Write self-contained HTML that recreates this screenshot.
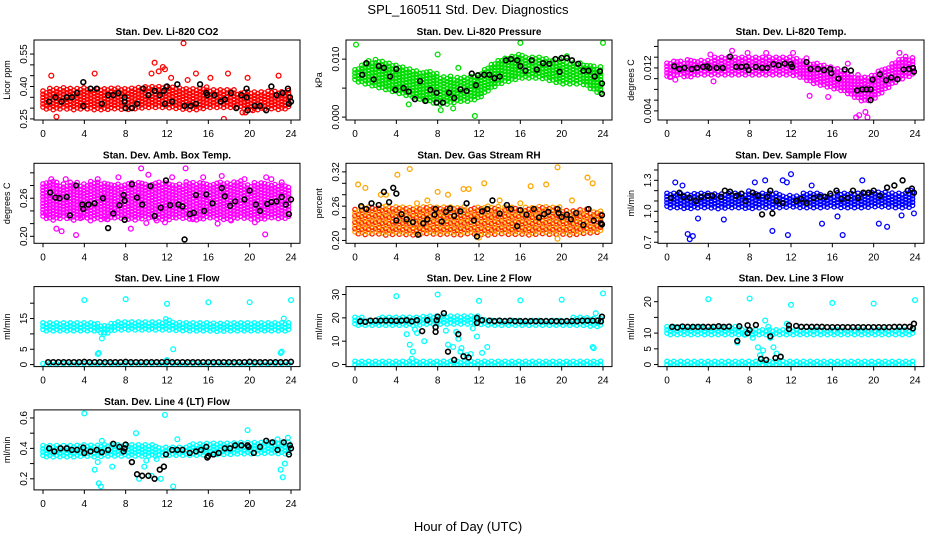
<!DOCTYPE html>
<html><head><meta charset="utf-8"><style>
html,body{margin:0;padding:0;background:#fff;}
svg{display:block;font-family:"Liberation Sans",sans-serif;}
</style></head><body>
<svg id="chart" width="936" height="540" viewBox="0 0 936 540">
<text x="468" y="14" text-anchor="middle" font-size="13">SPL_160511  Std. Dev. Diagnostics</text>
<text x="468" y="531" text-anchor="middle" font-size="13">Hour of Day (UTC)</text>
</svg>
<script>
// ---- data arrays ----
const xTicks = [0,4,8,12,16,20,24];
const hours = [0,1,2,3,4,5,6,7,8,9,10,11,12,13,14,15,16,17,18,19,20,21,22,23,24];

const co2Lo = [0.305,0.30,0.305,0.30,0.305,0.30,0.30,0.305,0.30,0.305,0.31,0.31,0.31,0.305,0.30,0.30,0.31,0.31,0.31,0.31,0.30,0.30,0.305,0.30,0.31];
const co2Hi = [0.385,0.39,0.395,0.40,0.395,0.40,0.40,0.395,0.40,0.40,0.40,0.405,0.40,0.40,0.40,0.40,0.395,0.39,0.385,0.38,0.375,0.38,0.385,0.385,0.38];
const co2Out = [[1.3,0.26],[0.8,0.45],[5,0.46],[10.8,0.51],[11.2,0.47],[11.6,0.49],[11.8,0.48],[10.5,0.46],[13.6,0.60],[14.8,0.46],[16.2,0.44],[17.5,0.25],[17.9,0.46],[19.3,0.28],[19.8,0.44],[22.8,0.45],[12.4,0.44],[14,0.43],[19.6,0.28],[20.3,0.29]];
const co2Blk = [[0.6,0.33],[1.2,0.35],[1.8,0.33],[2.3,0.35],[2.8,0.35],[3.3,0.37],[3.9,0.42],[3.9,0.31],[4.6,0.39],[5.2,0.39],[5.7,0.32],[6.3,0.36],[6.8,0.36],[7.3,0.37],[7.9,0.35],[7.9,0.33],[8,0.3],[8.6,0.3],[9.1,0.32],[9.7,0.39],[10.2,0.36],[10.8,0.38],[11.3,0.36],[11.7,0.38],[11.8,0.32],[12,0.4],[12.5,0.33],[13,0.41],[13.7,0.31],[14.3,0.31],[14.8,0.32],[15.2,0.41],[15.8,0.37],[15.9,0.36],[16.6,0.36],[17.2,0.33],[17.6,0.34],[18.2,0.37],[18.7,0.3],[19.2,0.36],[19.7,0.35],[19.7,0.39],[19.8,0.29],[20.5,0.31],[21,0.31],[21.6,0.29],[22.1,0.4],[22.6,0.36],[23.2,0.37],[23.7,0.39],[23.8,0.32],[23.9,0.35],[24,0.33]];

const presLo = [0.0065,0.006,0.0055,0.005,0.0045,0.004,0.0035,0.003,0.0025,0.0025,0.003,0.003,0.0035,0.005,0.006,0.0065,0.007,0.007,0.007,0.0065,0.006,0.006,0.006,0.005,0.004];
const presHi = [0.0085,0.0095,0.010,0.0095,0.009,0.0085,0.008,0.008,0.0075,0.007,0.007,0.007,0.0075,0.009,0.010,0.0105,0.011,0.0105,0.0105,0.010,0.010,0.0095,0.0095,0.009,0.0085];
const presOut = [[0.1,0.0125],[4.1,0.0165],[8,0.0108],[11.9,0.016],[16,0.0145],[16,0.0128],[19.9,0.016],[24,0.0128],[11.6,0.0002],[8.3,0.0012],[10,0.0085],[20.5,0.0105],[5.2,0.0022],[9.5,0.0015]];
const presBlk = [[0.7,0.0073],[1.1,0.0093],[1.8,0.0065],[2.3,0.0088],[2.8,0.0085],[3.4,0.007],[3.9,0.0047],[4,0.0083],[4.7,0.005],[5.2,0.0044],[5.8,0.0031],[6.3,0.0062],[6.8,0.0028],[7.3,0.0047],[7.9,0.0025],[7.9,0.0042],[8.5,0.0025],[9.1,0.0042],[9.6,0.0033],[10.2,0.0048],[10.8,0.0045],[11.3,0.0075],[11.7,0.0055],[11.9,0.0072],[12.5,0.0073],[13,0.0073],[13.5,0.0067],[14,0.007],[14.6,0.0098],[15.1,0.01],[15.7,0.0098],[16,0.0088],[16.5,0.008],[17.1,0.0098],[17.6,0.0082],[18.2,0.0093],[18.8,0.0092],[19.4,0.01],[19.8,0.0078],[20,0.0102],[20.5,0.0102],[21,0.0098],[21.6,0.0092],[22.1,0.008],[22.6,0.008],[23.2,0.007],[23.7,0.0079],[23.9,0.0058],[23.9,0.004]];

const tempLo = [0.0105,0.011,0.0105,0.011,0.011,0.011,0.011,0.011,0.011,0.011,0.011,0.011,0.011,0.0105,0.0095,0.009,0.0085,0.008,0.007,0.006,0.0065,0.008,0.0095,0.0105,0.011];
const tempHi = [0.0133,0.0133,0.0135,0.0137,0.0138,0.014,0.0143,0.0142,0.014,0.0142,0.0143,0.0142,0.014,0.0135,0.013,0.0125,0.012,0.0115,0.011,0.0105,0.011,0.012,0.0135,0.0142,0.014];
const tempOut = [[0.3,0.0103],[0.8,0.0098],[4.2,0.0145],[4.5,0.0095],[6.3,0.0152],[7.8,0.0148],[9.6,0.0148],[12.2,0.0148],[13.5,0.0138],[13.8,0.0068],[15.6,0.0066],[17.5,0.0128],[18.3,0.0028],[18.6,0.0032],[19.2,0.0038],[19.4,0.0028],[22.5,0.0148]];
const tempBlk = [[0.7,0.0123],[1.2,0.0118],[1.7,0.012],[2.4,0.0118],[2.9,0.012],[3.5,0.0122],[3.9,0.0123],[4.1,0.012],[4.8,0.012],[5.4,0.012],[6.1,0.0141],[6.7,0.0122],[7.2,0.0122],[7.7,0.0123],[7.9,0.0116],[8.6,0.0122],[9.2,0.012],[9.7,0.012],[10.3,0.0127],[10.8,0.0125],[11.4,0.0128],[12,0.0127],[12.1,0.0122],[13.5,0.0131],[13.9,0.0118],[14.6,0.0118],[15.2,0.0116],[15.8,0.0118],[15.9,0.011],[16.6,0.01],[17.2,0.0117],[17.8,0.0115],[18.4,0.0078],[18.9,0.008],[19.3,0.008],[19.7,0.008],[19.7,0.006],[19.9,0.0098],[20.6,0.0108],[21.2,0.0097],[21.7,0.0102],[22.3,0.0099],[22.9,0.0117],[23.4,0.0118],[23.8,0.012],[23.9,0.0113]];

const ambLo = [0.232,0.228,0.232,0.228,0.232,0.23,0.228,0.232,0.23,0.228,0.232,0.23,0.228,0.232,0.23,0.228,0.232,0.23,0.228,0.232,0.23,0.228,0.232,0.23,0.232];
const ambHi = [0.285,0.288,0.283,0.287,0.284,0.288,0.283,0.286,0.284,0.288,0.283,0.287,0.285,0.283,0.286,0.288,0.283,0.287,0.284,0.288,0.283,0.286,0.284,0.282,0.28];
const ambOut = [[0.3,0.237],[0.8,0.29],[1.3,0.212],[1.8,0.208],[2.2,0.29],[3.2,0.202],[3.8,0.23],[4.6,0.225],[5.3,0.29],[6.2,0.227],[7.3,0.293],[8.5,0.212],[9.5,0.307],[10.2,0.297],[11,0.225],[11.8,0.222],[12.5,0.293],[13.8,0.307],[14.5,0.227],[15.5,0.293],[17.3,0.295],[18.2,0.225],[19.5,0.29],[20.5,0.222],[21.5,0.203],[21.6,0.293],[22.1,0.29],[23.1,0.285],[4.1,0.245],[10,0.221],[16.9,0.22]];
const ambBlk = [[0.7,0.269],[1.2,0.261],[1.6,0.26],[2.3,0.262],[2.6,0.233],[3.2,0.28],[3.8,0.25],[3.9,0.243],[4.4,0.25],[5,0.252],[5.8,0.26],[6.3,0.213],[6.8,0.236],[7.4,0.249],[7.8,0.265],[7.9,0.256],[7.9,0.226],[8.6,0.282],[9.1,0.261],[9.6,0.25],[10.4,0.279],[10.8,0.232],[11.4,0.245],[11.9,0.288],[12.3,0.249],[13.1,0.25],[13.5,0.247],[13.7,0.195],[14.2,0.235],[14.6,0.237],[14.8,0.265],[15.6,0.24],[15.8,0.266],[16.4,0.252],[17.3,0.276],[17.6,0.263],[18.1,0.248],[18.6,0.255],[19.5,0.258],[20,0.272],[20.6,0.25],[21,0.24],[21.7,0.251],[22.1,0.254],[22.6,0.255],[23.1,0.262],[23.5,0.25],[23.8,0.235],[24,0.258]];

const rhLo = [0.215,0.213,0.215,0.212,0.214,0.213,0.212,0.215,0.213,0.214,0.212,0.215,0.213,0.212,0.215,0.213,0.214,0.212,0.215,0.213,0.214,0.212,0.215,0.216,0.218];
const rhHi = [0.255,0.26,0.258,0.262,0.26,0.262,0.258,0.26,0.262,0.258,0.26,0.257,0.26,0.262,0.258,0.26,0.257,0.258,0.26,0.257,0.258,0.255,0.256,0.252,0.25];
const rhOut = [[0.3,0.298],[1,0.292],[2.5,0.28],[3,0.28],[4.1,0.315],[5.3,0.325],[6,0.265],[7,0.27],[8,0.285],[9,0.28],[10.5,0.29],[11,0.29],[12,0.205],[12.5,0.30],[14,0.27],[16,0.265],[17,0.295],[18.5,0.298],[19.6,0.328],[19.6,0.203],[21,0.27],[22.5,0.31],[23,0.3]];
const rhBlk = [[0.6,0.26],[1.1,0.255],[1.6,0.265],[2.3,0.262],[2.8,0.285],[3.3,0.267],[3.7,0.292],[4,0.282],[4,0.235],[4.5,0.246],[5,0.237],[5.6,0.232],[6.1,0.21],[6.6,0.23],[7,0.237],[7.7,0.245],[7.8,0.255],[8.4,0.233],[8.8,0.25],[9.2,0.256],[9.6,0.243],[10.2,0.251],[10.8,0.265],[11.5,0.235],[11.8,0.207],[12.3,0.251],[12.8,0.255],[13.3,0.27],[14,0.247],[14.7,0.262],[15.1,0.255],[15.7,0.225],[16,0.253],[16.6,0.245],[17.3,0.255],[17.8,0.24],[18.3,0.246],[18.7,0.25],[19.6,0.255],[19.7,0.248],[20,0.241],[20.5,0.245],[20.9,0.237],[21.4,0.248],[22.1,0.227],[22.6,0.255],[23.1,0.235],[23.8,0.23],[23.9,0.244],[23.9,0.228]];

const flowLo = [1.05,1.05,1.04,1.05,1.05,1.04,1.05,1.05,1.04,1.05,1.05,1.05,1.06,1.05,1.05,1.05,1.06,1.05,1.05,1.05,1.06,1.06,1.05,1.05,1.06];
const flowHi = [1.18,1.2,1.18,1.17,1.18,1.19,1.18,1.18,1.2,1.19,1.18,1.17,1.17,1.17,1.18,1.17,1.17,1.18,1.18,1.2,1.2,1.2,1.2,1.19,1.2];
const flowOut = [[0.8,1.28],[1.5,1.25],[2,0.78],[2.2,0.73],[2.5,0.76],[5.5,0.92],[8.5,1.28],[9.5,1.3],[10.2,0.81],[11.2,1.3],[11.6,1.28],[12,1.36],[11.7,0.77],[14,1.25],[15,0.88],[17,0.77],[18.9,1.3],[20.5,0.88],[21.3,0.85],[22.7,0.96],[23.6,1.2],[23.9,0.98],[16.5,0.95],[3,0.93]];
const flowBlk = [[0.4,1.13],[1.2,1.18],[1.6,1.14],[2.2,1.13],[2.8,1.1],[3.3,1.14],[3.9,1.15],[4.4,1.15],[5.2,1.14],[5.6,1.2],[6.1,1.19],[6.7,1.15],[7.2,1.17],[7.6,1.1],[8.3,1.18],[8.8,1.15],[9.2,0.97],[9.7,1.14],[10,1.2],[10.2,0.98],[10.6,1.1],[11.2,1.08],[12.5,1.1],[13,1.12],[13.5,1.08],[14.2,1.13],[14.8,1.14],[15.3,1.14],[15.8,1.17],[16.4,1.2],[16.9,1.12],[17.5,1.13],[18,1.2],[18.5,1.13],[19,1.18],[19.5,1.18],[20,1.2],[20.6,1.15],[21.3,1.23],[22,1.25],[22.8,1.3],[23.3,1.2],[23.7,1.22],[23.9,1.18]];

const l1Lo = [11.5,11.5,11.5,11.5,11.5,11.5,10.5,11.8,11.8,11.8,11.8,11.8,11.8,11.6,11.5,11.5,11.5,11.3,11.5,11.5,11.5,11.5,11.5,11.5,11.5];
const l1Hi = [14,14,14,14,14.2,14.2,13,14.5,14.5,14.5,14.5,14.5,14.8,14.5,14,14,14,13.8,14,14,14,14,14,14,14];
const l1BLo = [0.3,0.3,0.3,0.3,0.3,0.3,0.3,0.3,0.3,0.3,0.3,0.3,0.3,0.3,0.3,0.3,0.3,0.3,0.3,0.3,0.3,0.3,0.3,0.3,0.3];
const l1BHi = [1.0,1.0,1.0,1.0,1.0,1.0,1.0,1.0,1.0,1.0,1.0,1.0,1.0,1.0,1.0,1.0,1.0,1.0,1.0,1.0,1.0,1.0,1.0,1.0,1.0];
const l1Out = [[4,21],[8,21.3],[12,19.8],[16,20.3],[20,20.3],[24,21],[5.3,3.5],[5.4,3.8],[5.7,8.5],[5.9,10],[12.6,5],[23,3.8],[23.1,4.2],[23.3,15],[12,1.5]];
const l1Blk = [[0.5,0.8],[1,0.8],[1.5,0.8],[2,0.8],[2.5,0.8],[3,0.8],[3.5,0.8],[4,0.9],[4.5,0.8],[5,0.8],[5.5,0.8],[6,0.8],[6.5,0.8],[7,0.8],[7.5,0.8],[8,0.9],[8.5,0.8],[9,0.8],[9.5,0.8],[10,0.8],[10.5,0.8],[11,0.8],[11.5,0.8],[12,0.9],[12.5,0.8],[13,0.8],[13.5,0.8],[14,0.8],[14.5,0.8],[15,0.8],[15.5,0.8],[16,0.8],[16.5,0.8],[17,0.8],[17.5,0.8],[18,0.8],[18.5,0.8],[19,0.8],[19.5,0.8],[20,0.9],[20.5,0.8],[21,0.8],[21.5,0.8],[22,0.8],[22.5,0.8],[23,0.8],[23.5,0.8],[24,0.9]];

const l2Lo = [17.5,17.5,17.5,17.5,17.5,17.5,17.5,18,18,18,18,18,18,17.5,17.5,17.5,17.5,17.5,17.5,17.5,17.5,17.5,17.5,17,17];
const l2Hi = [20.5,20,20,20.5,20.5,20.5,20.5,21,21,21,21,21,20.5,20,20,20,20,20,20,20,20,20,20.5,20.5,20];
const l2BLo = [0,0,0,0,0,0,0,0,0,0,0,0,0,0,0,0,0,0,0,0,0,0,0,0,0];
const l2BHi = [1.5,1.5,1.5,1.5,1.5,1.5,1.5,1.5,1.5,1.5,1.5,1.5,1.5,1.5,1.5,1.5,1.5,1.5,1.5,1.5,1.5,1.5,1.5,1.5,1.5];
const l2Out = [[4,29.3],[8,30],[12,27.3],[16,27.5],[20,27.8],[24,30.5],[5,13],[5.3,8.5],[5.5,2.5],[5.6,5.5],[5.8,15],[6,13.5],[6.7,10],[8.8,14.5],[9,8.5],[9.5,7.5],[9.8,14],[10,11],[10.2,5.5],[10.3,7],[10.8,4],[11.2,4.5],[11.4,15.5],[11.8,12],[12.3,5],[12.8,7.5],[23,7.5],[23.1,7],[23.3,22]];
const l2Blk = [[0.5,18.5],[1,18.3],[1.5,18.8],[2,18.8],[2.5,18.8],[3,18.8],[3.5,18.8],[4,18.7],[4.5,18.8],[5,19],[5.5,18.5],[6,19],[6.5,14.3],[7,19],[7.8,14],[7.8,16],[7.9,19],[8,20.5],[8.6,22],[9,5.5],[9.6,2],[10,13],[10.5,3.5],[11,3],[11.8,20],[11.8,17.8],[12.3,19],[13,18.8],[13.5,18.6],[14,18.8],[14.5,18.6],[15,18.8],[15.5,18.6],[16,18.6],[16.5,18.6],[17,18.6],[17.5,18.6],[18,18.6],[18.5,18.6],[19,18.6],[19.5,18.6],[20,18.5],[20.5,18.6],[21,18.6],[21.5,18.6],[22,18.8],[22.5,18.8],[23,18.8],[23.5,18.8],[23.8,18.5],[23.9,20.5]];

const l3Lo = [10,10,10,10,10,10,10,10,10,10,10,10,10,10,10,10,10,10,10,10,10,10,10,10,10];
const l3Hi = [12.8,12.8,12.8,12.8,12.8,12.8,12.8,12,11.2,11.2,11.2,11.2,11.5,11.5,11.5,11.5,11.5,11.5,11.5,11.5,11.5,11.5,11.5,11.5,11.5];
const l3BLo = [0,0,0,0,0,0,0,0,0,0,0,0,0,0,0,0,0,0,0,0,0,0,0,0,0];
const l3BHi = [1,1,1,1,1,1,1,1,1,1,1,1,1,1,1,1,1,1,1,1,1,1,1,1,1];
const l3Out = [[4,20.8],[8,21],[12,19],[16,19.6],[20,19.4],[24,20.5],[6.8,7],[7.5,9.5],[8.3,8.5],[8.8,5.5],[9,3],[9.3,4.5],[9.5,14],[9.8,12],[10,8.5],[10.3,5.5],[10.6,3.5],[11,2.5],[11.6,13]];
const l3Blk = [[0.5,12],[1,11.8],[1.5,12.1],[2,12],[2.5,12],[3,12],[3.5,12],[4,12],[4.5,12],[5,12.2],[5.5,12],[6,12.1],[6.8,7.5],[7,12.2],[7.8,12.5],[7.8,10],[8,11],[8.6,12.6],[9.1,1.8],[9.6,1.5],[10,9],[10.5,2.1],[11,2.5],[11.8,12.5],[11.8,11.3],[12.5,12.3],[13,12],[13.5,12],[14,12],[14.5,12],[15,12],[15.5,11.9],[16,11.9],[16.5,11.9],[17,11.9],[17.5,11.9],[18,11.9],[18.5,11.9],[19,11.9],[19.5,11.9],[20,11.9],[20.5,11.9],[21,11.9],[21.5,11.9],[22,12],[22.5,12],[23,12],[23.5,12],[23.8,11.5],[23.9,13]];

const l4Lo = [0.355,0.355,0.355,0.355,0.36,0.355,0.36,0.36,0.36,0.36,0.36,0.36,0.365,0.365,0.365,0.365,0.37,0.37,0.37,0.375,0.375,0.375,0.38,0.375,0.375];
const l4Hi = [0.42,0.42,0.42,0.42,0.42,0.42,0.425,0.425,0.42,0.42,0.42,0.42,0.42,0.42,0.425,0.425,0.43,0.435,0.44,0.445,0.445,0.445,0.445,0.44,0.44];
const l4Out = [[4,0.63],[5,0.26],[5.3,0.31],[5.4,0.17],[5.6,0.15],[5.7,0.45],[6.7,0.28],[9,0.5],[9.3,0.2],[9.8,0.28],[10,0.32],[10.5,0.22],[11,0.33],[11.4,0.2],[11.8,0.62],[12.6,0.15],[13,0.46],[19.8,0.52],[22.7,0.46],[23,0.26],[23.2,0.21],[23.4,0.3],[23.7,0.47]];
const l4Blk = [[0.6,0.40],[1.1,0.38],[1.7,0.40],[2.3,0.40],[2.8,0.39],[3.3,0.39],[3.9,0.405],[4,0.37],[4.6,0.38],[5.2,0.39],[5.7,0.375],[6.3,0.39],[6.8,0.43],[7.4,0.41],[7.8,0.38],[7.9,0.40],[8,0.425],[8.6,0.31],[9.1,0.23],[9.6,0.22],[10.2,0.22],[10.8,0.20],[11.3,0.26],[11.7,0.28],[11.9,0.36],[12.5,0.39],[13,0.39],[13.5,0.39],[14.2,0.37],[14.8,0.38],[15.3,0.39],[15.8,0.41],[15.9,0.34],[16,0.35],[16.5,0.36],[17,0.37],[17.6,0.40],[18.1,0.40],[18.6,0.42],[19.2,0.42],[19.8,0.42],[19.9,0.41],[20.4,0.37],[21,0.41],[21.6,0.45],[22.2,0.44],[22.7,0.39],[23.3,0.44],[23.8,0.36],[23.9,0.42],[24,0.40]];

const co2Ticks=[0.25,0.30,0.35,0.40,0.45,0.50,0.55], co2Labels=["0.25","","","0.40","","","0.55"];
const presTicks=[0,0.005,0.010], presLabels=["0.000","","0.010"];
const tempTicks=[0.004,0.006,0.008,0.010,0.012,0.014,0.016], tempLabels=["0.004","","","","0.012","",""];
const ambTicks=[0.20,0.22,0.24,0.26,0.28,0.30], ambLabels=["0.20","","","0.26","",""];
const rhTicks=[0.20,0.22,0.24,0.26,0.28,0.30,0.32], rhLabels=["0.20","","","0.26","","","0.32"];
const flowTicks=[0.7,0.8,0.9,1.0,1.1,1.2,1.3,1.4], flowLabels=["0.7","","","1.0","","","1.3",""];
const l1Ticks=[0,5,10,15,20], l1Labels=["0","5","","15",""];
const l2Ticks=[0,10,20,30], l2Labels=["0","10","20","30"];
const l3Ticks=[0,5,10,15,20], l3Labels=["0","5","10","","20"];
const l4Ticks=[0.2,0.3,0.4,0.5,0.6], l4Labels=["0.2","","0.4","","0.6"];

// ---- rendering ----
const NS="http://www.w3.org/2000/svg";
const svg=document.getElementById('chart');
function mk(tag,attrs,parent){const e=document.createElementNS(NS,tag);for(const k in attrs)e.setAttribute(k,attrs[k]);(parent||svg).appendChild(e);return e;}

const panels=[
 {name:'co2',title:'Stan. Dev. Li-820 CO2',ylab:'Licor ppm',col:0,row:0,y0:0.245,y1:0.615,ticks:co2Ticks,labels:co2Labels,color:'#ff0000',bands:[[co2Lo,co2Hi]],out:co2Out,blk:co2Blk},
 {name:'pressure',title:'Stan. Dev. Li-820 Pressure',ylab:'kPa',col:1,row:0,y0:-0.0005,y1:0.0133,ticks:presTicks,labels:presLabels,color:'#00dd00',bands:[[presLo,presHi]],out:presOut,blk:presBlk},
 {name:'li820-temp',title:'Stan. Dev. Li-820 Temp.',ylab:'degrees C',col:2,row:0,y0:0.0023,y1:0.0172,ticks:tempTicks,labels:tempLabels,color:'#ff00ff',bands:[[tempLo,tempHi]],out:tempOut,blk:tempBlk},
 {name:'amb-box-temp',title:'Stan. Dev. Amb. Box Temp.',ylab:'degrees C',col:0,row:1,y0:0.189,y1:0.315,ticks:ambTicks,labels:ambLabels,color:'#ff00ff',bands:[[ambLo,ambHi]],out:ambOut,blk:ambBlk},
 {name:'gas-stream-rh',title:'Stan. Dev. Gas Stream RH',ylab:'percent',col:1,row:1,y0:0.195,y1:0.335,ticks:rhTicks,labels:rhLabels,color:'#ffa500',alt:'#ff2000',bands:[[rhLo,rhHi]],out:rhOut,blk:rhBlk},
 {name:'sample-flow',title:'Stan. Dev. Sample Flow',ylab:'ml/min',col:2,row:1,y0:0.69,y1:1.465,ticks:flowTicks,labels:flowLabels,color:'#0000ff',bands:[[flowLo,flowHi]],out:flowOut,blk:flowBlk},
 {name:'line1-flow',title:'Stan. Dev. Line 1 Flow',ylab:'ml/min',col:0,row:2,y0:-0.65,y1:25.4,ticks:l1Ticks,labels:l1Labels,color:'#00ffff',bands:[[l1Lo,l1Hi],[l1BLo,l1BHi]],out:l1Out,blk:l1Blk},
 {name:'line2-flow',title:'Stan. Dev. Line 2 Flow',ylab:'ml/min',col:1,row:2,y0:-0.9,y1:33.4,ticks:l2Ticks,labels:l2Labels,color:'#00ffff',bands:[[l2Lo,l2Hi],[l2BLo,l2BHi]],out:l2Out,blk:l2Blk},
 {name:'line3-flow',title:'Stan. Dev. Line 3 Flow',ylab:'ml/min',col:2,row:2,y0:-0.65,y1:24.8,ticks:l3Ticks,labels:l3Labels,color:'#00ffff',bands:[[l3Lo,l3Hi],[l3BLo,l3BHi]],out:l3Out,blk:l3Blk},
 {name:'line4-flow',title:'Stan. Dev. Line 4 (LT) Flow',ylab:'ml/min',col:0,row:3,y0:0.127,y1:0.653,ticks:l4Ticks,labels:l4Labels,color:'#00ffff',bands:[[l4Lo,l4Hi]],out:l4Out,blk:l4Blk}
];

panels.forEach(p=>{
  const L=34+312*p.col, R=L+266, T=40+123.3*p.row, B=T+80;
  const xs=h=>43+312*p.col+h*(248/24);
  const ys=v=>B-(v-p.y0)/(p.y1-p.y0)*(B-T);
  const g=mk('g',{});
  
  
  const cp=mk('clipPath',{id:'cp-'+p.name},g);
  mk('rect',{x:L,y:T,width:R-L,height:B-T},cp);
  const t=mk('text',{x:(L+R)/2,y:T-5,'text-anchor':'middle','font-size':'10','font-weight':'bold'},g);
  t.textContent=p.title;
  
  
  const marks=mk('g',{'clip-path':'url(#cp-'+p.name+')',fill:'none','stroke-width':'1.3'},g);
  p.bands.forEach((bd,bi)=>{
    const lo=bd[0], hi=bd[1];
    const bg=mk('g',{},marks);
    
    
    let k=0;
    for(let h=0;h<=24;h+=0.33){
      const i=Math.min(23,Math.floor(h)), f=h-i;
      const vlo=lo[i]+(lo[i+1]-lo[i])*f, vhi=hi[i]+(hi[i+1]-hi[i])*f;
      const yA=ys(vhi), yB=ys(vlo);
      let r=0;
      for(let y=yB;y>=yA-0.5;y-=3.2){
        const c=(p.alt && (r+k)%2)?p.alt:p.color;
        mk('circle',{cx:xs(h).toFixed(1),cy:(y+((k%2)?1.5:0)).toFixed(1),r:2.2,stroke:c},bg);
        r++;
      }
      k++;
    }
  });
  p.out.forEach(d=>{
    const c=mk('circle',{cx:xs(d[0]),cy:ys(d[1]),r:2.4,stroke:p.color},marks);
    
    
  });
  p.blk.forEach(d=>{
    const c=mk('circle',{cx:xs(d[0]),cy:ys(d[1]),r:2.4,stroke:'#000','stroke-width':'1.6'},marks);
    
    
  });
  const box=mk('rect',{x:L,y:T,width:R-L,height:B-T,fill:'none',stroke:'#000','stroke-width':'1'},g);
  
  
  xTicks.forEach(v=>{
    mk('line',{x1:xs(v),x2:xs(v),y1:B,y2:B+4,stroke:'#000'},g);
    const tl=mk('text',{x:xs(v),y:B+17,'text-anchor':'middle','font-size':'10'},g);
    tl.textContent=v;
    
    
  });
  mk('line',{x1:L,x2:L,y1:ys(p.ticks[0]),y2:ys(p.ticks[p.ticks.length-1]),stroke:'#000'},g);
  p.ticks.forEach((v,i)=>{
    const y=ys(v);
    mk('line',{x1:L-4,x2:L,y1:y,y2:y,stroke:'#000'},g);
    if(p.labels[i]){
      const tl=mk('text',{x:L-7,y:y,'text-anchor':'middle','font-size':'10',transform:'rotate(-90 '+(L-7)+' '+y+')'},g);
      tl.textContent=p.labels[i];
      
      
    }
  });
  const yl=mk('text',{x:L-24,y:(T+B)/2,'text-anchor':'middle','font-size':'9',transform:'rotate(-90 '+(L-24)+' '+((T+B)/2)+')'},g);
  yl.textContent=p.ylab;
  
  
});
</script>
</body></html>
